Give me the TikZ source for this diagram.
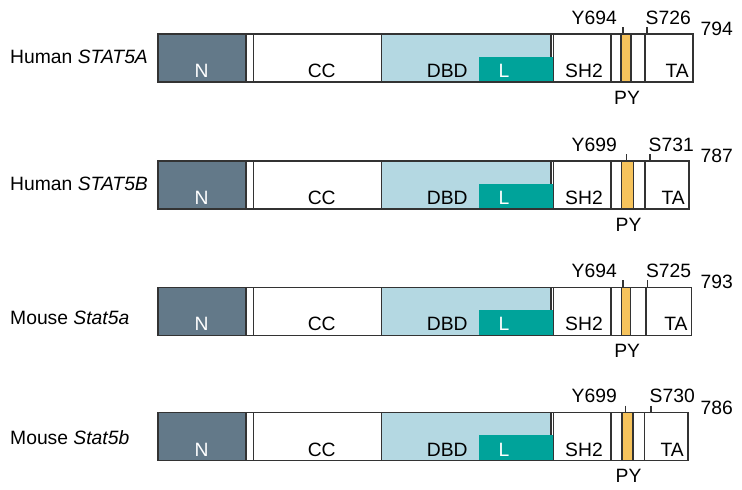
\documentclass[tikz,border=0pt]{standalone}
\usepackage{fontspec}
\setmainfont{Liberation Sans}
\definecolor{slate}{HTML}{637989}
\definecolor{dbdblue}{HTML}{B4D8E2}
\definecolor{teal}{HTML}{00A39A}
\definecolor{pyyellow}{HTML}{F6C35C}
\definecolor{lineg}{HTML}{333333}
\begin{document}
\begin{tikzpicture}[x=1pt,y=-1pt,
  dom/.style={draw=lineg, line width=1.5pt},
  lab/.style={inner sep=0pt, font=\fontsize{19.3}{23}\selectfont},
  wlab/.style={lab, text=white},
  tick/.style={draw=lineg, line width=1.1pt}]
\useasboundingbox (0,0) rectangle (742,490);
\foreach \ry/\lab/\lo/\ya/\yb/\ta/\tb/\yt/\st/\ylab/\slab/\len [count=\i] in {
  34/{Human \textit{STAT5A}}/29.3/621/631/645/693/623/647/Y694/S726/794,
  161/{Human \textit{STAT5B}}/29/621.7/633.3/645/689/626.7/650/Y699/S731/787,
  287.3/{Mouse \textit{Stat5a}}/37/621.7/630.7/646/691.7/623/647.3/Y694/S725/793,
  412.7/{Mouse \textit{Stat5b}}/31.5/622/633/644.3/688/625.7/651/Y699/S730/786}{
  \pgfmathsetmacro\rb{\ry+48}
  \pgfmathsetmacro\lt{\ry+22.5}
  \pgfmathsetmacro\pyx{(\ya+\yb)/2+1}
  % domains
  \draw[dom, fill=slate] (158,\ry) rectangle (246,\rb);
  \draw[dom, fill=white] (246,\ry) rectangle (253.3,\rb);
  \draw[dom, fill=white] (253.3,\ry) rectangle (381.3,\rb);
  \draw[dom, fill=dbdblue] (381.3,\ry) rectangle (551,\rb);
  \draw[dom, fill=white] (551,\ry) rectangle (553.5,\rb);
  \fill[teal] (479,\lt) rectangle (553.5,\rb);
  \draw[dom, fill=white] (553.5,\ry) rectangle (611,\rb);
  \draw[dom, fill=white] (611,\ry) rectangle (\ya,\rb);
  \draw[dom, fill=pyyellow] (\ya,\ry) rectangle (\yb,\rb);
  \draw[dom, fill=white] (\yb,\ry) rectangle (\ta,\rb);
  \draw[dom, fill=white] (\ta,\ry) rectangle (\tb,\rb);
  \draw[dom] (158,\ry) rectangle (\tb,\rb);
  % ticks
  \coordinate (yt\i) at (\yt,\ry-7);
  \coordinate (yb\i) at (\yt,\ry);
  \coordinate (st\i) at (\st,\ry-7);
  \coordinate (sb\i) at (\st,\ry);
  \draw[tick] (yt\i) -- (yb\i);
  \draw[tick] (st\i) -- (sb\i);
  % labels
  \node[lab, anchor=base west] (name\i) at (10,\ry+\lo) {\lab};
  \node[wlab, anchor=base] (N\i) at (201.7,\rb-4.5) {N};
  \node[lab, anchor=base] (CC\i) at (321.7,\rb-4.5) {CC};
  \node[lab, anchor=base] (DBD\i) at (447.3,\rb-4.5) {DBD};
  \node[wlab, anchor=base] (L\i) at (504,\rb-4.5) {L};
  \node[lab, anchor=base] (SH\i) at (584,\rb-4.5) {SH2};
  \node[lab, anchor=base east] (TA\i) at (\tb-4,\rb-4.5) {TA};
  \node[lab, anchor=base] (PY\i) at (\pyx,\rb+22) {PY};
  \node[lab, anchor=base east] (Y\i) at (617,\ry-10) {\ylab};
  \node[lab, anchor=base west] (S\i) at (\st-1.5,\ry-10) {\slab};
  \node[lab, anchor=base west] (len\i) at (700.5,\ry+1.5) {\len};
}
\end{tikzpicture}
\end{document}
